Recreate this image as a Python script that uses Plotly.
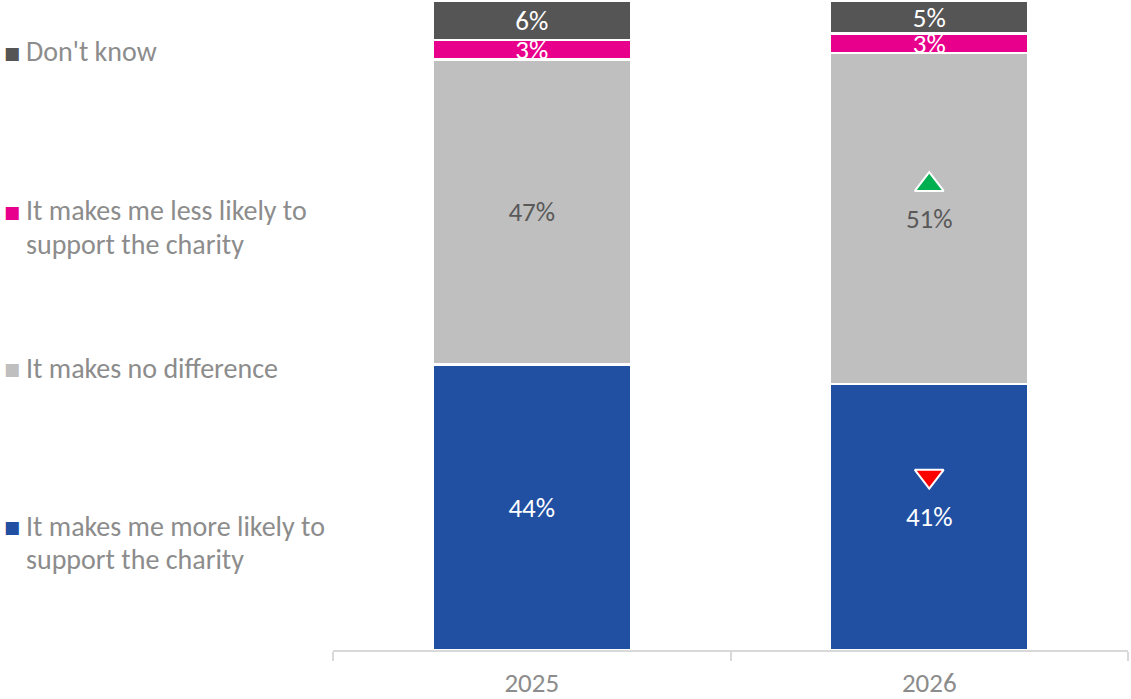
import plotly.graph_objects as go

# Survey answers by year (percent of respondents)
years = ["2025", "2026"]
more_likely = [44, 41]
no_difference = [47, 51]
less_likely = [3, 3]
dont_know = [6, 5]

# Significant change vs. previous year: +1 up, -1 down, 0 none
sig_more_likely = [0, -1]
sig_no_difference = [0, 1]

series_names = [
    "It makes me more likely to support the charity",
    "It makes no difference",
    "It makes me less likely to support the charity",
    "Don't know",
]
series_values = [more_likely, no_difference, less_likely, dont_know]
series_colors = ["#2150A3", "#BFBFBF", "#E8008C", "#555555"]
label_colors = ["#FFFFFF", "#595959", "#FFFFFF", "#FFFFFF"]

FONT = "Carlito, Lato, sans-serif"
FS = 28
W, H = 1131, 699
L, R, T, B = 333, 3, 1, 49

fig = go.Figure()
for name, vals, col, tcol in zip(series_names, series_values, series_colors, label_colors):
    fig.add_trace(go.Bar(
        x=years, y=vals, name=name,
        marker=dict(color=col, line=dict(color="#FFFFFF", width=2.5)),
        texttemplate="%{y}%", textposition="inside", insidetextanchor="middle",
        textangle=0, constraintext="none",
        textfont=dict(color=tcol, size=FS - 1, family=FONT),
        hoverinfo="skip",
    ))

# Significance arrows placed just above the segment labels
def markers(sig, bases, vals, offset, symbol, color):
    xs, ys = [], []
    for yr, s, b, v in zip(years, sig, bases, vals):
        if s != 0:
            xs.append(yr)
            ys.append(b + v / 2 + offset)
    fig.add_trace(go.Scatter(
        x=xs, y=ys, mode="markers", showlegend=False, hoverinfo="skip",
        marker=dict(symbol=symbol, size=25, color=color,
                    line=dict(color="#FFFFFF", width=2)),
    ))

markers([1 if s > 0 else 0 for s in sig_no_difference], more_likely, no_difference,
        5.2, "triangle-up", "#00B050")
markers([1 if s < 0 else 0 for s in sig_more_likely], [0, 0], more_likely,
        6.3, "triangle-down", "#FF0000")

# Legend drawn as text on the left side
plot_w = W - L - R
plot_h = H - T - B
def px_x(px):
    return (px - L) / plot_w
def px_y(py):
    return (H - B - py) / plot_h

legend_rows = [
    (series_colors[3], ["Don't know"], 52),
    (series_colors[2], ["It makes me less likely to", "support the charity"], 211),
    (series_colors[1], ["It makes no difference"], 368),
    (series_colors[0], ["It makes me more likely to", "support the charity"], 526),
]
for col, lines, y0 in legend_rows:
    fig.add_annotation(x=px_x(11.5), y=px_y(y0 + 1), xref="paper", yref="paper",
                       text="■", showarrow=False, xanchor="center", yanchor="middle",
                       font=dict(color=col, size=17, family="DejaVu Sans"))
    for i, line in enumerate(lines):
        fig.add_annotation(x=px_x(24), y=px_y(y0 + 33.5 * i), xref="paper", yref="paper",
                           text=line, showarrow=False, xanchor="left", yanchor="middle",
                           font=dict(color="#8C8C8C", size=FS, family=FONT))

fig.update_layout(
    barmode="stack", bargap=0.5,
    width=W, height=H, margin=dict(l=L, r=R, t=T, b=B),
    paper_bgcolor="#FFFFFF", plot_bgcolor="#FFFFFF",
    showlegend=False,
    font=dict(family=FONT, size=FS, color="#8C8C8C"),
    xaxis=dict(
        type="category", tickson="boundaries", ticks="outside", ticklen=9,
        tickcolor="#D9D9D9", tickwidth=1.5, showline=True, linecolor="#D9D9D9",
        linewidth=1.5, showgrid=False, ticklabelstandoff=8,
        tickfont=dict(color="#8C8C8C", size=FS - 1, family=FONT),
    ),
    yaxis=dict(range=[0, 100], visible=False, showgrid=False, zeroline=False),
)

fig.write_html("out.html")
